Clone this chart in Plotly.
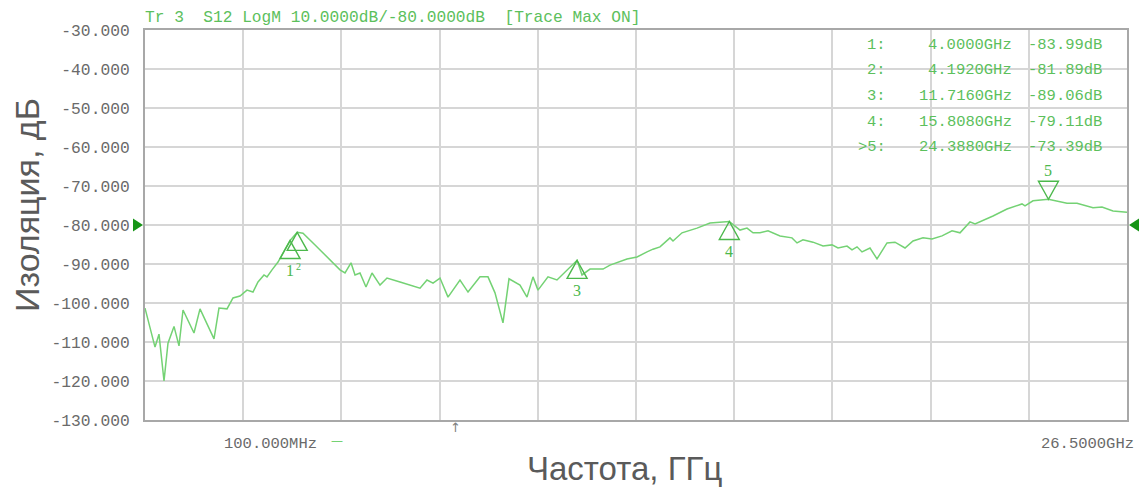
import plotly.graph_objects as go

# ---------------- data ----------------
freq_ghz = [0.100, 0.369, 0.476, 0.611, 0.718, 0.880, 1.014, 1.122, 1.417, 1.579,
            1.955, 2.089, 2.305, 2.466, 2.654, 2.842, 3.003, 3.138, 3.299, 3.380,
            3.514, 3.676, 3.850, 4.000, 4.192, 4.348, 4.617, 4.993, 5.342, 5.477,
            5.638, 5.746, 5.880, 6.041, 6.203, 6.418, 6.606, 6.955, 7.305, 7.493,
            7.681, 7.843, 8.031, 8.246, 8.568, 8.784, 9.106, 9.321, 9.509, 9.724,
            9.886, 10.181, 10.370, 10.531, 10.665, 10.934, 11.176, 11.445, 11.716, 11.849,
            12.064, 12.413, 12.601, 13.058, 13.327, 13.596, 13.757, 13.945, 14.214, 14.295,
            14.537, 14.940, 15.290, 15.808, 16.096, 16.284, 16.446, 16.634, 16.849, 17.172,
            17.494, 17.629, 17.790, 18.059, 18.328, 18.570, 18.731, 18.973, 19.107, 19.242,
            19.376, 19.591, 19.779, 20.048, 20.263, 20.532, 20.747, 21.016, 21.258, 21.527,
            21.796, 22.011, 22.279, 22.414, 22.898, 23.274, 23.677, 23.758, 23.973, 24.388,
            24.887, 25.156, 25.586, 25.828, 26.124, 26.500]
isolation_db = [-101.3, -111.3, -108.0, -120.0, -110.3, -106.0, -111.0, -101.8, -107.7, -101.5,
                -109.2, -101.3, -101.5, -98.7, -98.2, -96.7, -97.2, -94.6, -92.8, -93.3,
                -91.5, -89.5, -86.5, -83.99, -81.89, -82.1, -84.6, -88.2, -91.5, -92.3,
                -89.7, -92.8, -92.3, -95.9, -92.3, -95.4, -93.6, -94.6, -95.6, -96.2,
                -94.1, -94.9, -93.6, -98.5, -94.1, -97.2, -93.3, -93.3, -97.4, -105.1,
                -93.8, -95.4, -98.5, -93.3, -96.7, -93.3, -94.1, -91.5, -89.06, -92.8,
                -91.3, -91.3, -90.3, -88.7, -88.2, -86.9, -86.2, -85.6, -83.3, -84.1,
                -82.0, -80.8, -79.5, -79.11, -81.3, -80.8, -82.0, -82.0, -81.5, -82.8,
                -83.3, -84.6, -83.8, -84.4, -85.4, -85.1, -85.9, -85.4, -86.4, -85.6,
                -86.9, -85.9, -88.7, -84.6, -84.4, -85.9, -84.1, -83.3, -83.6, -82.8,
                -81.5, -82.0, -79.2, -79.7, -77.7, -75.9, -74.6, -75.1, -73.8, -73.39,
                -74.4, -74.4, -75.6, -75.4, -76.4, -76.7]

marker_ids = ["1", "2", "3", "4", "5"]
marker_freq_ghz = [4.0000, 4.1920, 11.7160, 15.8080, 24.3880]
marker_db = [-83.99, -81.89, -89.06, -79.11, -73.39]
marker_pointing = ["up", "up", "up", "up", "down"]
active_marker = "5"

y_ticks = [-30, -40, -50, -60, -70, -80, -90, -100, -110, -120, -130]
start_freq_ghz = 0.1
stop_freq_ghz = 26.5
ref_level_db = -80
header_text = "Tr 3  S12 LogM 10.0000dB/-80.0000dB  [Trace Max ON]"
start_label = "100.000MHz"
stop_label = "26.5000GHz"
y_title = "Изоляция, дБ"
x_title = "Частота, ГГц"

# ---------------- style ----------------
TRACE = "#74d274"
GREEN_TXT = "#5cc05c"
MARK = "#4cb84c"
DARK_GREEN = "#169416"
GRID = "#d6d6d6"
FRAME = "#a8a8a8"
TICK_TXT = "#6a6a6a"
MONO = "Liberation Mono"
SERIF = "Liberation Serif"

W, H = 1140, 488
PL, PR, PT, PB = 145, 1127, 30, 420
PW, PH = PR - PL, PB - PT


def px(xpix):
    return (xpix - PL) / PW


def py(ypix):
    return (PB - ypix) / PH


fig = go.Figure()
fig.add_trace(go.Scatter(x=freq_ghz, y=isolation_db, mode="lines",
                         line=dict(color=TRACE, width=1.5), hoverinfo="skip",
                         showlegend=False))

shapes = []
annotations = []

# reference-level arrows just outside the plot edges (paper refs -> not clipped)
ref_frac = (ref_level_db - y_ticks[-1]) / (y_ticks[0] - y_ticks[-1])
for xa, path in [(0, "M-2,0 L-12,6.5 L-12,-6.5 Z"), (1, "M2,0 L12,6.5 L12,-6.5 Z")]:
    shapes.append(dict(type="path", xref="paper", yref="paper", xsizemode="pixel",
                       ysizemode="pixel", xanchor=xa, yanchor=ref_frac, path=path,
                       line=dict(width=0), fillcolor=DARK_GREEN, layer="above"))

# marker triangles (pixel sized, anchored on the marker data point)
for mid, f, d, p in zip(marker_ids, marker_freq_ghz, marker_db, marker_pointing):
    if p == "up":
        path = "M0,0 L-10,-18 L10,-18 Z"
        lab_shift = -30 if mid != "2" else -34
        lab_xshift = 0 if mid != "2" else 1
    else:
        path = "M0,0 L-10,18 L10,18 Z"
        lab_shift = 29
        lab_xshift = 0
    shapes.append(dict(type="path", xref="x", yref="y", xsizemode="pixel",
                       ysizemode="pixel", xanchor=f, yanchor=d, path=path,
                       line=dict(color=MARK, width=1.4), fillcolor="rgba(0,0,0,0)",
                       layer="above"))
    annotations.append(dict(x=f, y=d, xref="x", yref="y", text=mid, showarrow=False,
                            yshift=lab_shift, xshift=lab_xshift,
                            font=dict(family=SERIF, size=16 if mid != "2" else 10,
                                      color=MARK)))

# marker table
row_y0 = 45
row_dy = 25.5
for i, (mid, f, d) in enumerate(zip(marker_ids, marker_freq_ghz, marker_db)):
    ypix = row_y0 + i * row_dy
    prefix = ">" if mid == active_marker else ""
    cols = [(f"{prefix}{mid}:", px(888)),
            (f"{f:.4f}GHz", px(1014)),
            (f"{d:.2f}dB", px(1104))]
    for txt, xp in cols:
        annotations.append(dict(x=xp, y=py(ypix), xref="paper", yref="paper", text=txt,
                                showarrow=False, xanchor="right", yanchor="middle",
                                font=dict(family=MONO, size=15.5, color=GREEN_TXT)))

# header
annotations.append(dict(x=0, y=py(18), xref="paper", yref="paper",
                        text=header_text, showarrow=False, xanchor="left",
                        yanchor="middle", xshift=-2,
                        font=dict(family=MONO, size=16.2, color=GREEN_TXT)))

# start / stop labels
annotations.append(dict(x=px(270), y=py(444), xref="paper", yref="paper",
                        text=start_label, showarrow=False,
                        xanchor="center", yanchor="middle",
                        font=dict(family=MONO, size=15.5, color=TICK_TXT)))
annotations.append(dict(x=px(337), y=py(441), xref="paper", yref="paper",
                        text="—", showarrow=False,
                        xanchor="center", yanchor="middle",
                        font=dict(family="DejaVu Sans", size=12, color=TRACE)))
annotations.append(dict(x=px(1136), y=py(444), xref="paper", yref="paper",
                        text=stop_label, showarrow=False,
                        xanchor="right", yanchor="middle",
                        font=dict(family=MONO, size=15.5, color=TICK_TXT)))
# sweep pointer
annotations.append(dict(x=px(455), y=py(427), xref="paper", yref="paper",
                        text="↑", showarrow=False,
                        xanchor="center", yanchor="middle",
                        font=dict(family="DejaVu Sans", size=13, color="#808080")))

# axis titles
annotations.append(dict(x=px(27), y=py(205), xref="paper", yref="paper",
                        text=y_title, showarrow=False, textangle=-90,
                        xanchor="center", yanchor="middle",
                        font=dict(family="Liberation Sans", size=34, color="#5a5a5a")))
annotations.append(dict(x=px(624), y=py(468), xref="paper", yref="paper",
                        text=x_title, showarrow=False,
                        xanchor="center", yanchor="middle",
                        font=dict(family="Liberation Sans", size=33, color="#5a5a5a")))

fig.update_layout(
    width=W, height=H,
    margin=dict(l=PL, r=W - PR, t=PT, b=H - PB),
    paper_bgcolor="white", plot_bgcolor="white",
    shapes=shapes, annotations=annotations,
    showlegend=False,
    xaxis=dict(range=[start_freq_ghz, stop_freq_ghz], tick0=start_freq_ghz,
               dtick=(stop_freq_ghz - start_freq_ghz) / 10, showticklabels=False,
               showgrid=True, gridcolor=GRID, gridwidth=1.5, zeroline=False,
               showline=True, linecolor=FRAME, linewidth=2, mirror=True, ticks=""),
    yaxis=dict(range=[y_ticks[-1], y_ticks[0]], tickvals=y_ticks,
               ticktext=[f"{v:.3f}" for v in y_ticks],
               tickfont=dict(family=MONO, size=16.3, color=TICK_TXT),
               ticklabelstandoff=10,
               showgrid=True, gridcolor=GRID, gridwidth=1.5, zeroline=False,
               showline=True, linecolor=FRAME, linewidth=2, mirror=True, ticks=""),
)

fig.write_html(
    "out.html",
    config={"displayModeBar": False},
    post_script=("document.body.style.margin='0';"
                 "document.body.style.overflow='hidden';"
                 "document.documentElement.style.overflow='hidden';"),
)
